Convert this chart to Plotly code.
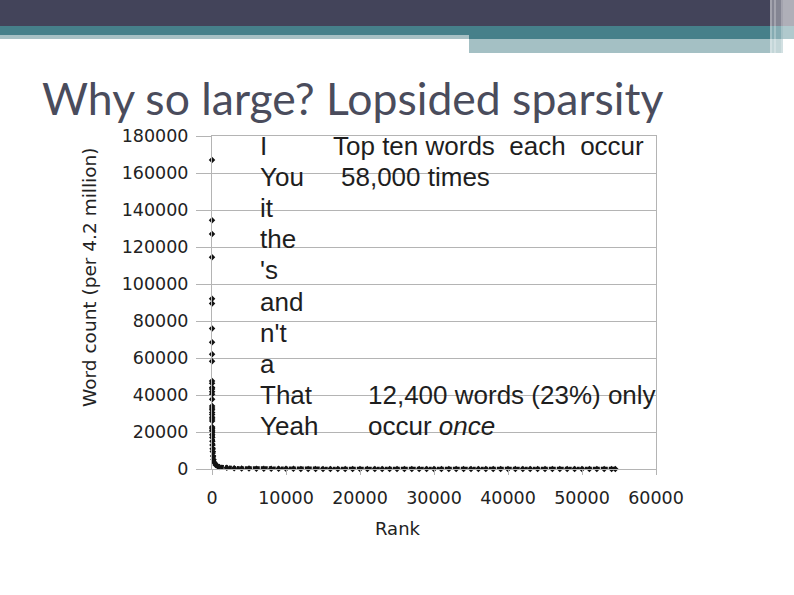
import plotly.graph_objects as go

# ---- data ----
ranks = [1, 2, 3, 4, 5, 6, 7, 8, 9, 10,
         11, 12, 13, 14, 15, 16, 17, 18, 19, 20,
         21, 22, 23, 24, 25, 26, 27, 28, 30, 35,
         40, 50, 60, 80, 100, 150, 200, 300, 500, 800,
         1000, 2000, 3000, 4000, 5000, 6000, 7000, 8000, 9000, 10000,
         11000, 12000, 13000, 14000, 15000, 16000, 17000, 18000, 19000, 20000,
         21000, 22000, 23000, 24000, 25000, 26000, 27000, 28000, 29000, 30000,
         31000, 32000, 33000, 34000, 35000, 36000, 37000, 38000, 39000, 40000,
         41000, 42000, 43000, 44000, 45000, 46000, 47000, 48000, 49000, 50000,
         51000, 52000, 53000, 54000, 54500]
counts = [167000, 134500, 127000, 114500, 92000, 89500, 76000, 68500, 62000, 58300,
          47600, 46300, 44000, 43200, 41800, 40400, 37700, 34000, 33000, 32000,
          30500, 29500, 28000, 27000, 26000, 22700, 22000, 21000, 20000, 18500,
          17000, 15000, 13000, 11000, 9500, 7000, 5200, 3500, 2200, 1400,
          1100, 620, 400, 290, 220, 175, 140, 115, 98, 85,
          72, 63, 55, 48, 43, 38, 34, 30, 27, 24,
          22, 20, 18, 16, 15, 13, 12, 11, 10, 9,
          8, 7, 7, 6, 5, 5, 4, 4, 3, 3,
          2, 2, 1, 1, 1, 1, 1, 1, 1, 1,
          1, 1, 1, 1, 1]
top_words = ["I", "You", "it", "the", "'s", "and", "n't", "a", "That", "Yeah"]
y_ticks = [0, 20000, 40000, 60000, 80000, 100000, 120000, 140000, 160000, 180000]
x_ticks = [0, 10000, 20000, 30000, 40000, 50000, 60000]

title = "Why so large? Lopsided sparsity"
y_title = "Word count (per 4.2 million)"
x_title = "Rank"

# ---- geometry helpers (pixel -> paper) ----
W, H = 794, 595
L, R, T, B = 212, 656, 136, 469


def px(x):
    return (x - L) / (R - L)


def py(y):
    return (B - y) / (B - T)


fig = go.Figure()

split = 25  # sparse markers above, dense band below
fig.add_trace(go.Scatter(
    x=ranks[split:], y=counts[split:], mode="lines",
    line=dict(color="#121212", width=4.5, dash="3px,1px"),
    cliponaxis=False, hoverinfo="skip", showlegend=False))
fig.add_trace(go.Scatter(
    x=ranks, y=counts, mode="markers",
    marker=dict(symbol="diamond", size=5, color="#121212"),
    cliponaxis=False, showlegend=False))

grid = "#b4b4b4"
tickfont = dict(family="DejaVu Sans", size=17.5, color="#222222")
fig.update_xaxes(range=[0, 60000], tickvals=x_ticks, tickformat="d",
                 showgrid=False, zeroline=False, showline=True,
                 linecolor=grid, linewidth=1, mirror=True,
                 ticks="outside", ticklen=5, tickcolor=grid,
                 ticklabelstandoff=8, tickfont=tickfont)
fig.update_yaxes(range=[0, 180000], tickvals=y_ticks, tickformat="d",
                 showgrid=True, gridcolor=grid, gridwidth=1, zeroline=False,
                 showline=True, linecolor=grid, linewidth=1, mirror=True,
                 ticks="outside", ticklen=15, tickcolor=grid,
                 ticklabelstandoff=4, tickfont=tickfont)

shapes = []
# header bands
shapes.append(dict(type="rect", xref="paper", yref="paper",
                   x0=px(0), x1=px(W), y0=py(0), y1=py(26),
                   fillcolor="#43445a", line_width=0, layer="above"))
shapes.append(dict(type="rect", xref="paper", yref="paper",
                   x0=px(0), x1=px(469), y0=py(26), y1=py(35),
                   fillcolor="#46808a", line_width=0, layer="above"))
shapes.append(dict(type="rect", xref="paper", yref="paper",
                   x0=px(0), x1=px(469), y0=py(35), y1=py(39),
                   fillcolor="#a7c0c4", line_width=0, layer="above"))
shapes.append(dict(type="rect", xref="paper", yref="paper",
                   x0=px(469), x1=px(W), y0=py(26), y1=py(39),
                   fillcolor="#46808a", line_width=0, layer="above"))
shapes.append(dict(type="rect", xref="paper", yref="paper",
                   x0=px(469), x1=px(783), y0=py(39), y1=py(53),
                   fillcolor="#a4c0c4", line_width=0, layer="above"))
shapes.append(dict(type="rect", xref="paper", yref="paper",
                   x0=px(770), x1=px(W), y0=py(0), y1=py(53),
                   fillcolor="rgba(255,255,255,0.35)", line_width=0, layer="above"))
shapes.append(dict(type="rect", xref="paper", yref="paper",
                   x0=px(783), x1=px(W), y0=py(0), y1=py(53),
                   fillcolor="rgba(255,255,255,0.35)", line_width=0, layer="above"))
for xx in (771, 775, 782):
    shapes.append(dict(type="line", xref="paper", yref="paper",
                       x0=px(xx), x1=px(xx), y0=py(0), y1=py(53),
                       line=dict(color="rgba(255,255,255,0.5)", width=1),
                       layer="above"))

ann = []
ann.append(dict(text=title, xref="paper", yref="paper", x=px(40), y=py(97),
                xanchor="left", yanchor="middle", showarrow=False,
                font=dict(family="Lato", size=44.5, color="#4a4c5c")))
ann.append(dict(text=y_title, xref="paper", yref="paper", x=px(89), y=py(278),
                xanchor="center", yanchor="middle", showarrow=False, textangle=-90,
                font=dict(family="DejaVu Sans", size=18.5, color="#222222")))
ann.append(dict(text=x_title, xref="paper", yref="paper", x=px(398), y=py(528),
                xanchor="center", yanchor="middle", showarrow=False,
                font=dict(family="DejaVu Sans", size=18, color="#222222")))

txtfont = dict(family="Liberation Sans", size=26, color="#1e1e1e")
for i, w in enumerate(top_words):
    ann.append(dict(text=w, xref="paper", yref="paper", x=px(258), y=py(146 + 31.1 * i),
                    xanchor="left", yanchor="middle", showarrow=False, font=txtfont))
notes = [("Top ten words\u00a0 each\u00a0 occur", 331, 146),
         ("58,000 times", 339, 177),
         ("12,400 words (23%) only", 366, 395),
         ("occur <i>once</i>", 366, 426)]
for t, xx, yy in notes:
    ann.append(dict(text=t, xref="paper", yref="paper", x=px(xx), y=py(yy),
                    xanchor="left", yanchor="middle", showarrow=False, font=txtfont))

fig.update_layout(width=W, height=H, autosize=False,
                  margin=dict(l=L, r=W - R, t=T, b=H - B, pad=0),
                  paper_bgcolor="white", plot_bgcolor="white",
                  shapes=shapes, annotations=ann, showlegend=False)

fig.write_html("out.html", config={"displayModeBar": False},
               post_script="document.body.style.margin='0px';"
                           "document.body.style.padding='0px';"
                           "document.documentElement.style.overflow='hidden';")
